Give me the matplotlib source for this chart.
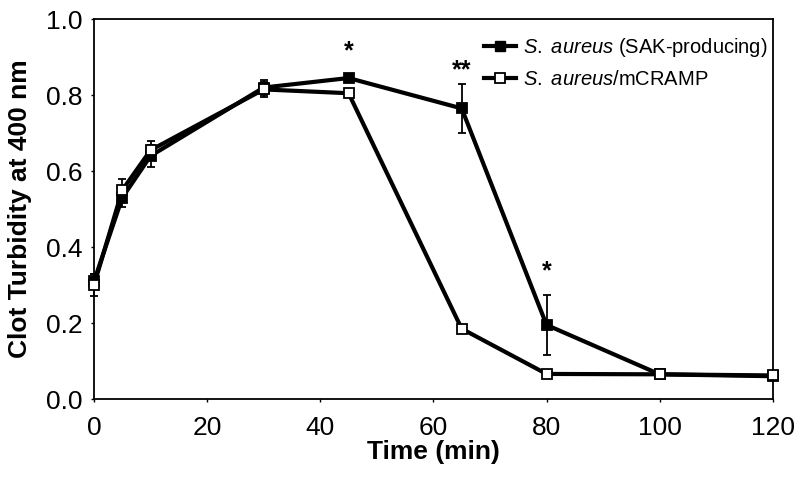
import matplotlib.pyplot as plt
from matplotlib.lines import Line2D
import numpy as np

plt.rcParams['font.family'] = ['Liberation Sans', 'DejaVu Sans']
plt.rcParams['mathtext.fontset'] = 'custom'
plt.rcParams['mathtext.it'] = 'Liberation Sans:italic'
plt.rcParams['mathtext.rm'] = 'Liberation Sans'

time = [0, 5, 10, 30, 45, 65, 80, 100, 120]
sak = [0.31, 0.53, 0.64, 0.82, 0.845, 0.765, 0.195, 0.065, 0.06]
sak_err = [0.02, 0.025, 0.03, 0.02, 0.01, 0.065, 0.08, 0.005, 0.005]
cramp = [0.30, 0.55, 0.655, 0.815, 0.805, 0.185, 0.066, 0.065, 0.062]
cramp_err = [0.03, 0.03, 0.025, 0.02, 0.01, 0.005, 0.005, 0.005, 0.005]

star_x = [45, 65, 80]
star_y = [0.898, 0.846, 0.318]
star_txt = ['*', '**', '*']

labels = [r'$\it{S.}$ $\it{aureus}$ (SAK-producing)', r'$\it{S.}$ $\it{aureus}$/mCRAMP']

fig = plt.figure(figsize=(8, 4.79), dpi=100)
ax = fig.add_axes([0.1175, 0.167, 0.8485, 0.793])

ax.errorbar(time, sak, yerr=sak_err, color='black', lw=3, marker='s', ms=7.5,
            mfc='black', mec='black', mew=1.3, capsize=3, elinewidth=1.3,
            capthick=1.3, zorder=2, clip_on=False)
ax.errorbar(time, cramp, yerr=cramp_err, color='black', lw=3, marker='s', ms=7.5,
            mfc='white', mec='black', mew=1.3, capsize=3, elinewidth=1.3,
            capthick=1.3, zorder=3, clip_on=False)

for x, y, t in zip(star_x, star_y, star_txt):
    ax.text(x, y, t, ha='center', va='baseline', fontsize=18, fontweight='bold')

ax.set_xlim(0, 120)
ax.set_ylim(0, 1.0)
ax.set_xticks(np.arange(0, 121, 20))
ax.set_yticks(np.arange(0, 1.01, 0.2))
ax.set_yticklabels(['%.1f' % v for v in np.arange(0, 1.01, 0.2)])
ax.tick_params(labelsize=19, length=2, width=1)
ax.tick_params(axis='x', pad=10)
ax.tick_params(axis='y', pad=6.5)
for s in ax.spines.values():
    s.set_linewidth(1.3)

ax.set_xlabel('Time (min)', fontsize=19, fontweight='bold', labelpad=0)
ax.set_ylabel('Clot Turbidity at 400 nm', fontsize=19, fontweight='bold', labelpad=10)

handles = [Line2D([], [], color='black', lw=3, marker='s', ms=7.5, mfc='black', mec='black'),
           Line2D([], [], color='black', lw=3, marker='s', ms=7.5, mfc='white', mec='black', mew=1.3)]
ax.legend(handles, labels, loc='upper right', bbox_to_anchor=(0.992, 0.956), frameon=False,
          fontsize=14.5, handlelength=1.6, handletextpad=0.35, borderpad=0,
          borderaxespad=0, labelspacing=0.55)

fig.savefig('out.png', dpi=100)
